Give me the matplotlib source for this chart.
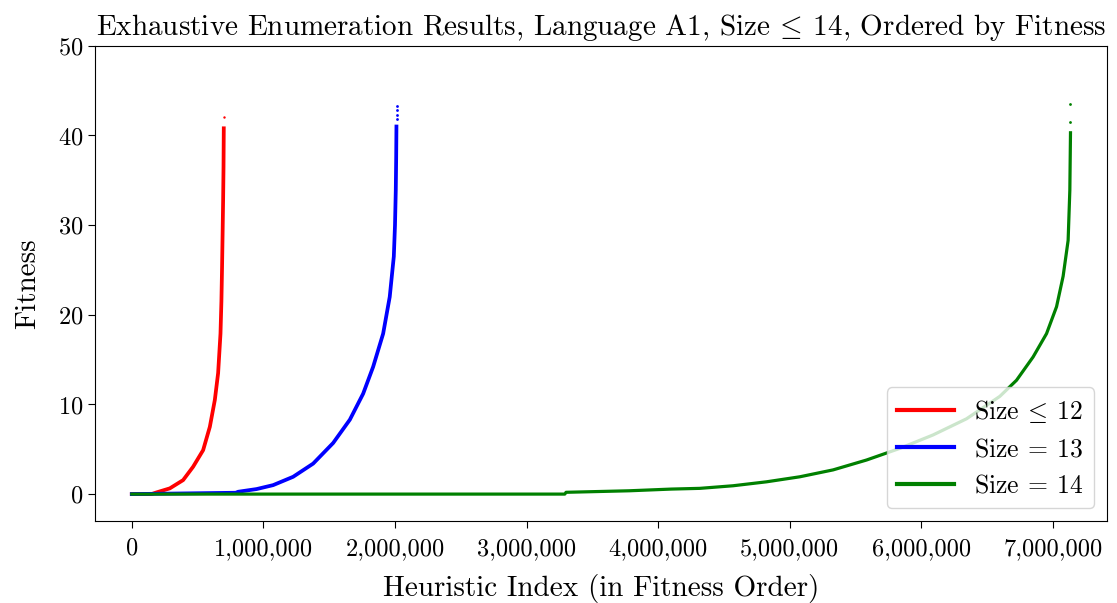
import matplotlib.pyplot as plt
from matplotlib.ticker import FuncFormatter

plt.rcParams['font.family'] = 'serif'
plt.rcParams['font.serif'] = ['cmr10']
plt.rcParams['mathtext.fontset'] = 'cm'
plt.rcParams['axes.formatter.use_mathtext'] = True

# sorted fitness values, sampled along each run
idx_12 = [0, 150000, 188000, 289000, 390000, 466000, 542000, 593000, 631000,
          656000, 674000, 681000, 686000, 690000, 694000, 697000, 699000]
fit_12 = [0, 0, 0.19, 0.64, 1.56, 3.05, 4.9, 7.5, 10.5,
          13.5, 17.9, 21.5, 25.4, 29.0, 32.8, 36.5, 40.8]
top_idx_12 = [700000]
top_fit_12 = [42.1]

idx_13 = [0, 790000, 808000, 948000, 1074000, 1226000, 1378000, 1530000,
          1657000, 1758000, 1834000, 1910000, 1960000, 1991000, 2000000,
          2006000, 2009000, 2011000]
fit_13 = [0, 0.15, 0.26, 0.56, 1.0, 1.93, 3.4, 5.7,
          8.3, 11.2, 14.2, 17.9, 22.0, 26.5, 30.0,
          33.9, 37.5, 41.0]
top_idx_13 = [2011500, 2011500, 2012000, 2012000]
top_fit_13 = [41.8, 42.3, 42.8, 43.3]

idx_14 = [0, 3290000, 3300000, 3780000, 4100000, 4316000, 4569000, 4823000,
          5076000, 5329000, 5583000, 5836000, 6089000, 6343000, 6596000,
          6723000, 6849000, 6951000, 7027000, 7077000, 7115000, 7128000, 7133000]
fit_14 = [0, 0, 0.2, 0.37, 0.56, 0.64, 0.93, 1.37,
          1.93, 2.7, 3.8, 5.1, 6.6, 8.4, 10.9,
          12.7, 15.3, 17.9, 20.9, 24.3, 28.3, 33.9, 40.3]
top_idx_14 = [7133000, 7133000]
top_fit_14 = [41.5, 43.5]

fig = plt.figure(figsize=(11.17, 6.03), dpi=100)
ax = fig.add_axes([0.085, 0.136, 0.906, 0.788])

ax.plot(idx_12, fit_12, color='red', lw=2.7, label=r'Size $\!\leq\!$ 12')
ax.scatter(top_idx_12, top_fit_12, color='red', s=3, lw=0)
ax.plot(idx_13, fit_13, color='blue', lw=2.7, label=r'Size $\!=\!$ 13')
ax.scatter(top_idx_13, top_fit_13, color='blue', s=4, lw=0)
ax.plot(idx_14, fit_14, color='green', lw=2.3, label=r'Size $\!=\!$ 14')
ax.scatter(top_idx_14, top_fit_14, color='green', s=4, lw=0)

ax.set_xlim(-280000, 7410000)
ax.set_ylim(-3, 50)
ax.set_xticks(range(0, 7000001, 1000000))
ax.set_yticks(range(0, 51, 10))
ax.xaxis.set_major_formatter(FuncFormatter(lambda v, p: '{:,.0f}'.format(v)))
ax.tick_params(labelsize=17.5, length=5)
ax.tick_params(axis='x', pad=7)

ax.set_xlabel('Heuristic Index (in Fitness Order)', fontsize=21, labelpad=10)
ax.set_ylabel('Fitness', fontsize=21, labelpad=12)
ax.set_title(r'Exhaustive Enumeration Results, Language A1, Size $\!\leq\!$ 14, Ordered by Fitness',
             fontsize=21, pad=8)

leg = ax.legend(loc='lower right', fontsize=18.5, handlelength=2.2)
for line in leg.get_lines():
    line.set_linewidth(3)

fig.savefig('out.png', dpi=100)
